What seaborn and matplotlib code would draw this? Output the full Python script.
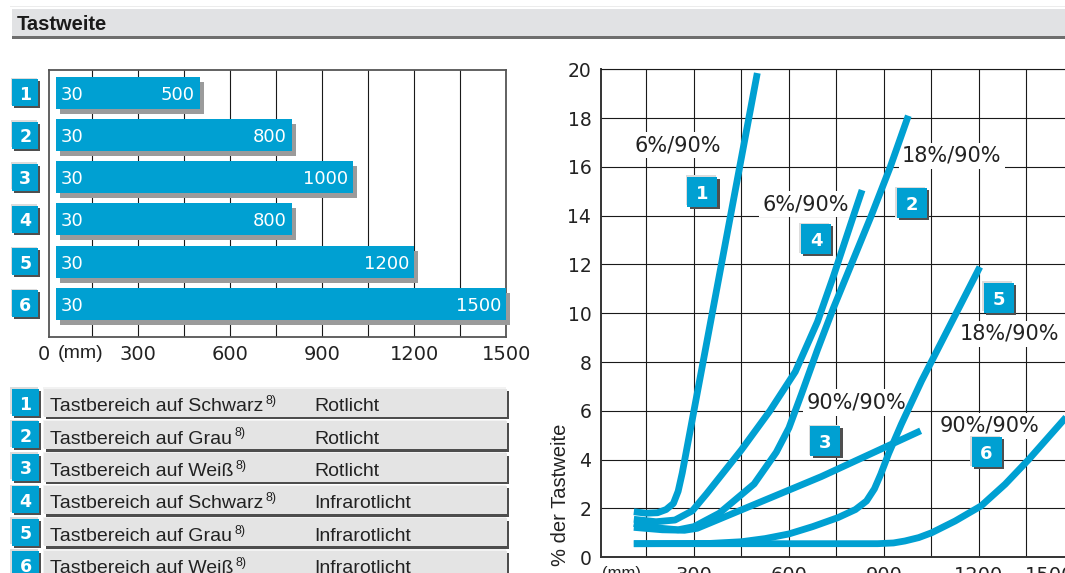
import matplotlib
matplotlib.use("Agg")
import matplotlib.pyplot as plt
import matplotlib.patheffects as pe
from matplotlib.patches import Rectangle
import numpy as np
import pandas as pd
import seaborn as sns

# Sensing range per variant (mm)
variant_ids = ["1", "2", "3", "4", "5", "6"]
range_start = [30, 30, 30, 30, 30, 30]
range_end = [500, 800, 1000, 800, 1200, 1500]

# Legend table
target_text = ["Tastbereich auf Schwarz", "Tastbereich auf Grau", "Tastbereich auf Weiß",
               "Tastbereich auf Schwarz", "Tastbereich auf Grau", "Tastbereich auf Weiß"]
light_text = ["Rotlicht", "Rotlicht", "Rotlicht",
              "Infrarotlicht", "Infrarotlicht", "Infrarotlicht"]
footnote = "8)"

# Tolerance curves: distance (mm) vs. % of sensing range
c1_mm = [110, 150, 185, 212, 235, 250, 263, 500]
c1_pct = [1.86, 1.80, 1.82, 1.95, 2.2, 2.7, 3.45, 19.85]
c2_mm = [110, 180, 250, 300, 380, 490, 560, 600, 640, 690, 740, 800, 860, 920, 977]
c2_pct = [1.38, 1.2, 1.12, 1.25, 1.8, 3.0, 4.3, 5.3, 6.7, 8.5, 10.2, 12.1, 14.0, 16.0, 18.1]
c3_mm = [110, 200, 270, 310, 702, 1016]
c3_pct = [1.22, 1.12, 1.1, 1.18, 3.3, 5.18]
c4_mm = [110, 180, 240, 295, 340, 450, 540, 620, 690, 740, 800, 831]
c4_pct = [1.55, 1.45, 1.52, 1.9, 2.6, 4.4, 6.0, 7.6, 9.65, 11.5, 13.85, 15.05]
c5_mm = [110, 350, 450, 525, 600, 675, 755, 810, 845, 870, 890, 915, 955, 1019, 1203]
c5_pct = [0.55, 0.56, 0.63, 0.76, 0.95, 1.25, 1.62, 1.95, 2.3, 2.8, 3.4, 4.25, 5.45, 7.23, 11.9]
c6_mm = [110, 880, 930, 966, 1010, 1051, 1125, 1207, 1283, 1357, 1500]
c6_pct = [0.55, 0.55, 0.58, 0.66, 0.8, 1.0, 1.48, 2.1, 2.99, 4.0, 6.1]
contrast_labels = ["6%/90%", "18%/90%", "90%/90%", "6%/90%", "18%/90%", "90%/90%"]

range_ticks = [0, 300, 600, 900, 1200, 1500]
pct_ticks = list(range(0, 21, 2))

# ---------------------------------------------------------------- style
sns.set_style("white")
plt.rcParams["font.family"] = ["Liberation Sans", "DejaVu Sans"]
plt.rcParams["axes.unicode_minus"] = False

BLUE = "#00a0d2"
INK = "#222222"
NUM = ["DejaVu Sans"]
W, H = 1065, 573

fig = plt.figure(figsize=(W / 100, H / 100), dpi=100)
fig.patch.set_facecolor("white")


def frect(x0, y0, x1, y1):
    """Axes rectangle from pixel corners (origin top-left)."""
    return [x0 / W, 1 - y1 / H, (x1 - x0) / W, (y1 - y0) / H]


def pt(px):
    return px * 72 / 100


def button_fx(d=2.0):
    return [pe.SimplePatchShadow(offset=(-pt(1.6), pt(1.6)), shadow_rgbFace="#dcdcdc", alpha=1),
            pe.SimplePatchShadow(offset=(pt(d), -pt(d)), shadow_rgbFace="#4f4f4f", alpha=1),
            pe.Normal()]


# ---------------------------------------------------------------- page layer
ov = fig.add_axes([0, 0, 1, 1])
ov.set_xlim(0, W)
ov.set_ylim(H, 0)
ov.axis("off")

# title band
ov.add_patch(Rectangle((10, 6.0), W, 1.4, fc="#ececec", ec="none"))
ov.add_patch(Rectangle((12.3, 9.3), W, 26.8, fc="#e1e2e4", ec="none"))
ov.add_patch(Rectangle((12.3, 36.0), W, 2.7, fc="#6e6e6e", ec="none"))
ov.text(17, 23, "Tastweite", fontsize=14.5, fontweight="bold", ha="left",
        va="center_baseline", color="#1a1a1a")

# numbered buttons next to the range bars
for k, vid in enumerate(variant_ids):
    cy = 92.8 + 42.2 * k
    ov.add_patch(Rectangle((12.3, cy - 13.5), 26, 27, fc=BLUE, ec="none",
                           path_effects=button_fx()))
    ov.text(25.3, cy, vid, ha="center", va="center_baseline", color="white",
            fontsize=12.5, fontweight="bold", family=NUM)

# legend table
for k, vid in enumerate(variant_ids):
    top = 388.5 + 32.4 * k
    ov.add_patch(Rectangle((44.3, top), 462.4, 28.3, fc="#e4e4e4", ec="none",
                           path_effects=[pe.SimplePatchShadow(offset=(-pt(1.2), pt(1.2)),
                                                              shadow_rgbFace="#f2f2f2", alpha=1),
                                         pe.SimplePatchShadow(offset=(pt(2), -pt(2.5)),
                                                              shadow_rgbFace="#4d4d4d", alpha=1),
                                         pe.Normal()]))
    ov.add_patch(Rectangle((11.7, top + 0.5), 27.6, 27, fc=BLUE, ec="none",
                           path_effects=button_fx()))
    ov.text(25.5, top + 14.2, vid, ha="center", va="center_baseline", color="white",
            fontsize=12.5, fontweight="bold", family=NUM)
    t = ov.text(50, top + 22.6, target_text[k], ha="left", va="baseline",
                fontsize=14, color=INK)
    ov.annotate(footnote, xy=(1, 1), xycoords=t, xytext=(1.8, 2.2),
                textcoords="offset points", ha="left", va="top", fontsize=9, color=INK)
    ov.text(314.4, top + 22.6, light_text[k], ha="left", va="baseline",
            fontsize=14, color=INK)

# ---------------------------------------------------------------- range bars
axb = fig.add_axes(frect(49.1, 70, 506.1, 336.5))
bars = pd.DataFrame({"id": variant_ids, "start": range_start, "end": range_end})
bars["span"] = bars["end"] - bars["start"]
sns.barplot(data=bars, x="span", y="id", orient="h", left=bars["start"].to_numpy(),
            color=BLUE, saturation=1, width=0.76, errorbar=None, ax=axb, zorder=3,
            linewidth=0, clip_on=False,
            path_effects=[pe.SimplePatchShadow(offset=(pt(4), -pt(5)),
                                               shadow_rgbFace="#9b9b9b", alpha=1),
                          pe.Normal()])
for k, (s, e) in enumerate(zip(range_start, range_end)):
    axb.annotate(str(s), xy=(s, k), xytext=(pt(5), 0), textcoords="offset points",
                 ha="left", va="center_baseline", color="white", fontsize=13,
                 family=NUM, zorder=4)
    axb.annotate(str(e), xy=(e, k), xytext=(-pt(5), 0), textcoords="offset points",
                 ha="right", va="center_baseline", color="white", fontsize=13,
                 family=NUM, zorder=4)

grid_mm = np.arange(150, 1501, 150)
axb.set_xlim(9, 1500)
axb.set_ylim(5.775, -0.54)
axb.set_xticks(grid_mm)
axb.set_xticklabels([str(v) if v in range_ticks else "" for v in grid_mm])
axb.set_yticks([])
axb.set_xlabel("")
axb.set_ylabel("")
axb.tick_params(axis="x", length=0, pad=pt(8), labelsize=14, labelcolor=INK)
for lab in axb.get_xticklabels():
    lab.set_fontfamily(NUM)
axb.grid(axis="x", color="#1a1a1a", lw=0.8)
axb.set_axisbelow(True)
for sp in axb.spines.values():
    sp.set_visible(True)
    sp.set_color("#555555")
    sp.set_linewidth(1.3)

ov.text(37.9, 344.6, "0", ha="left", va="top", fontsize=14, family=NUM, color=INK)
ov.text(57.5, 344.6, "(mm)", ha="left", va="top", fontsize=14, color=INK)

# ---------------------------------------------------------------- tolerance curves
axr = fig.add_axes(frect(601.3, 69.4, 1073.9, 557.1))
curve_mm = [c1_mm, c2_mm, c3_mm, c4_mm, c5_mm, c6_mm]
curve_pct = [c1_pct, c2_pct, c3_pct, c4_pct, c5_pct, c6_pct]
curves = pd.concat([pd.DataFrame({"curve": vid, "mm": m, "pct": p})
                    for vid, m, p in zip(variant_ids, curve_mm, curve_pct)],
                   ignore_index=True)
sns.lineplot(data=curves, x="mm", y="pct", units="curve", estimator=None, sort=False,
             color=BLUE, lw=4.9, solid_capstyle="butt", solid_joinstyle="round",
             legend=False, ax=axr, zorder=3)

axr.set_xlim(7.3, 1500)
axr.set_ylim(0, 20)
axr.set_xticks(grid_mm)
axr.set_xticklabels([str(v) if v in range_ticks else "" for v in grid_mm])
axr.set_yticks(pct_ticks)
axr.set_xlabel("")
axr.set_ylabel("")
axr.tick_params(axis="x", length=0, pad=pt(9), labelsize=14, labelcolor=INK)
axr.tick_params(axis="y", length=0, pad=pt(10), labelsize=13.5, labelcolor=INK)
for lab in axr.get_xticklabels() + axr.get_yticklabels():
    lab.set_fontfamily(NUM)
axr.get_xticklabels()[-1].set_ha("right")
axr.grid(True, color="#1a1a1a", lw=0.8)
axr.set_axisbelow(True)
axr.spines["right"].set_visible(False)
axr.spines["top"].set_color("#1a1a1a")
axr.spines["top"].set_linewidth(0.8)
for side in ("left", "bottom"):
    axr.spines[side].set_color("#333333")
    axr.spines[side].set_linewidth(1.4)

ov.text(601.7, 566.2, "(mm)", ha="left", va="top", fontsize=12, color=INK)
fig.text(560.5 / W, 1 - 495 / H, "% der Tastweite", rotation=90, ha="center",
         va="center", fontsize=14.5, color=INK)

# contrast labels and numbered buttons on the curves
label_pos = [(250, 16.97), (1114, 16.54), (813, 6.42), (651.6, 14.56), (1295, 9.24), (1235, 5.47)]
button_pos = [(326.6, 14.97), (987.4, 14.51), (715, 4.75), (685.4, 13.04), (1263, 10.64), (1224, 4.30)]

for txt, (x, y) in zip(contrast_labels, label_pos):
    axr.text(x, y, txt, ha="center", va="center_baseline", fontsize=15, family=NUM,
             color=INK, zorder=2.5,
             bbox=dict(boxstyle="square,pad=0.15", fc="white", ec="none"))

sns.scatterplot(x=[p[0] for p in button_pos], y=[p[1] for p in button_pos], marker="s",
                s=pt(30) ** 2, color=BLUE, edgecolor="none", linewidth=0, ax=axr,
                zorder=5, legend=False, clip_on=False, path_effects=button_fx(2.2))
axr.set_xlabel("")
axr.set_ylabel("")
for vid, (x, y) in zip(variant_ids, button_pos):
    axr.text(x, y, vid, ha="center", va="center_baseline", color="white", fontsize=13,
             fontweight="bold", family=NUM, zorder=6)

fig.savefig("out.png", dpi=100, facecolor="white")
